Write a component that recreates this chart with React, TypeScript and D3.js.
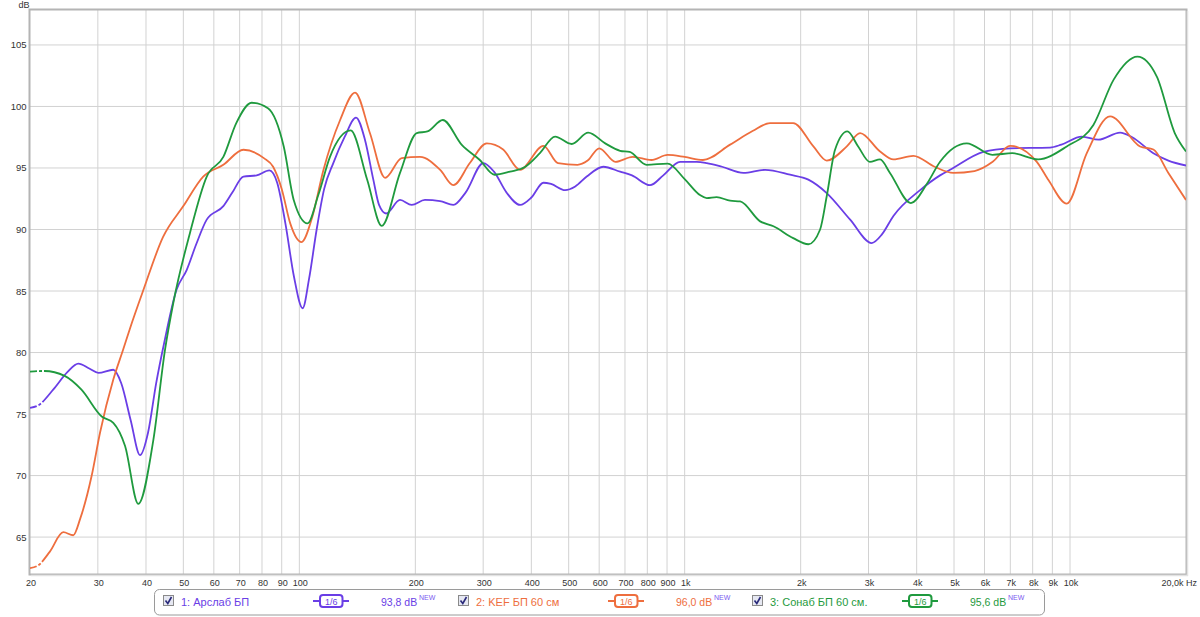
import React from "react";
import * as d3 from "d3";

const W = 1200;
const H = 617;

const arslabFreq = [20, 21, 23, 25, 26.7, 28.5, 30.1, 32.9, 34.5, 36.5, 38.6, 40.5, 42.5, 44.6, 48, 51, 54, 57.5, 63.5, 67, 71.6, 77.5, 83.6, 87.6, 92, 96.8, 102, 106, 110.9, 116, 122.5, 131, 140.3, 148, 155.6, 161, 168, 182.5, 195.7, 211.8, 231.8, 251, 270, 300.4, 320, 345, 374, 400, 430, 450, 489.5, 520, 557, 615, 680, 730, 813, 880, 973, 1075, 1141, 1250, 1420, 1617, 1877, 2094, 2337, 2688, 3058, 3250, 3481, 4083, 4600, 4883, 5957, 6989, 8873, 9500, 10726, 11855, 13490, 14500, 16460, 18000, 20000];
const arslabDb = [75.5, 75.7, 77.0, 78.4, 79.1, 78.7, 78.35, 78.6, 77.5, 74.5, 71.66, 73.5, 77.5, 80.8, 85.1, 86.7, 88.8, 90.8, 91.9, 93.0, 94.3, 94.4, 94.8, 93.8, 90.5, 86.2, 83.6, 86.0, 90.0, 93.3, 95.4, 97.5, 99.1, 97.3, 94.05, 92.0, 91.3, 92.4, 92.0, 92.4, 92.3, 92.0, 93.0, 95.4, 94.7, 93.0, 92.0, 92.6, 93.8, 93.7, 93.2, 93.5, 94.3, 95.1, 94.7, 94.4, 93.6, 94.4, 95.5, 95.5, 95.4, 95.1, 94.6, 94.85, 94.45, 94.05, 92.96, 90.8, 88.9, 89.6, 91.1, 93.2, 94.4, 94.85, 96.3, 96.6, 96.66, 96.9, 97.55, 97.3, 97.88, 97.5, 96.2, 95.6, 95.2];

const kefFreq = [20, 21, 22.5, 24.4, 25.9, 27, 28.9, 30.4, 32.9, 34.9, 36.3, 39.4, 44.3, 50, 56.3, 63.5, 71.6, 80.9, 85.5, 90, 94.7, 101.3, 108, 115.4, 127.6, 139.5, 152.6, 166.9, 184.4, 205.6, 232, 251, 277, 306.5, 338, 374, 430, 469, 527, 560, 600, 661, 733, 820, 903, 1000, 1115, 1312, 1500, 1666, 1913, 2158, 2337, 2635, 2853, 3215, 3481, 3922, 4453, 4980, 5650, 6300, 6989, 8201, 8800, 9807, 11055, 12706, 15200, 16460, 18000, 20000];
const kefDb = [62.47, 62.7, 63.8, 65.4, 65.15, 66.5, 69.96, 73.5, 77.8, 80.24, 81.9, 85.1, 89.4, 91.9, 94.3, 95.26, 96.48, 95.8, 95.1, 93.3, 90.5, 88.98, 91.0, 94.8, 98.9, 101.13, 97.8, 94.2, 95.8, 95.9, 94.85, 93.6, 95.4, 97.0, 96.5, 94.85, 96.8, 95.4, 95.26, 95.6, 96.6, 95.5, 95.9, 95.65, 96.06, 95.9, 95.65, 96.9, 98.0, 98.65, 98.65, 96.75, 95.6, 96.75, 97.84, 96.34, 95.7, 95.99, 95.1, 94.6, 94.75, 95.5, 96.8, 95.5, 94.0, 92.1, 96.2, 99.2, 96.75, 96.5, 94.6, 92.4];

const sonabFreq = [20, 21.8, 24.6, 27.2, 30.7, 32.9, 35.3, 38.2, 41.8, 44.8, 47.1, 52, 57.5, 63.5, 68.6, 75.2, 82.9, 91.1, 96.7, 105, 112, 120.1, 135.9, 150, 163.6, 182.5, 201.7, 215, 235.6, 264, 294, 321, 352, 386, 421, 461, 509, 562, 622, 680, 720, 797, 903, 1000, 1096, 1141, 1210, 1312, 1393, 1570, 1700, 1913, 2094, 2245, 2337, 2456, 2643, 2820, 3022, 3215, 3410, 3864, 4262, 4600, 5396, 6289, 7085, 8268, 9807, 11500, 12993, 14960, 16800, 18700, 20000];
const sonabDb = [78.45, 78.5, 78.1, 76.98, 74.8, 74.29, 72.4, 67.7, 72.9, 80.2, 84.05, 89.7, 94.3, 95.9, 98.65, 100.3, 99.86, 96.75, 92.4, 90.5, 92.8, 95.9, 98.05, 94.05, 90.3, 94.6, 97.84, 97.97, 98.9, 96.88, 95.65, 94.45, 94.7, 95.1, 96.2, 97.55, 96.95, 97.88, 97.0, 96.4, 96.3, 95.26, 95.35, 94.1, 92.8, 92.55, 92.63, 92.34, 92.28, 90.66, 90.26, 89.3, 88.8, 89.98, 92.7, 96.48, 97.97, 96.75, 95.5, 95.7, 94.6, 92.15, 93.76, 95.5, 97.0, 96.07, 96.2, 95.7, 96.75, 98.5, 102.2, 104.05, 102.43, 97.84, 96.34];

const seriesNames = ["1: Арслаб БП", "2: KEF БП 60 см", "3: Сонаб БП 60 см."];
const seriesLevels = ["93,8 dB", "96,0 dB", "95,6 dB"];
const seriesColors = ["#6a3ee6", "#ee6e3e", "#1f9a3e"];

const yTicks = [65, 70, 75, 80, 85, 90, 95, 100, 105];
const xGrid = [30, 40, 50, 60, 70, 80, 90, 100, 200, 300, 400, 500, 600, 700, 800, 900, 1000, 2000, 3000, 4000, 5000, 6000, 7000, 8000, 9000, 10000];
const xTickValues = [20, 30, 40, 50, 60, 70, 80, 90, 100, 200, 300, 400, 500, 600, 700, 800, 900, 1000, 2000, 3000, 4000, 5000, 6000, 7000, 8000, 9000, 10000];
const xTickLabels = ["20", "30", "40", "50", "60", "70", "80", "90", "100", "200", "300", "400", "500", "600", "700", "800", "900", "1k", "2k", "3k", "4k", "5k", "6k", "7k", "8k", "9k", "10k"];

const L = 30, R = 1186, T = 10, B = 574;

export default function App() {
  const x = d3.scaleLog().domain([20, 20000]).range([L, R]);
  const y = d3.scaleLinear().domain([62, 107.84]).range([B, T]);
  const line = d3
    .line<[number, number]>()
    .x((d) => x(d[0]))
    .y((d) => y(d[1]))
    .curve(d3.curveMonotoneX);

  const series = [
    arslabFreq.map((f, i) => [f, arslabDb[i]] as [number, number]),
    kefFreq.map((f, i) => [f, kefDb[i]] as [number, number]),
    sonabFreq.map((f, i) => [f, sonabDb[i]] as [number, number]),
  ];

  const font = "'Liberation Sans', Arial, sans-serif";
  const legendX = [163, 458, 752];

  return (
    <div style={{ position: "absolute", left: 0, top: 0 }}>
      <svg width={W} height={H} style={{ display: "block", background: "#fff" }}>
        <defs>
          <clipPath id="plot">
            <rect x={L} y={T} width={R - L} height={B - T} />
          </clipPath>
        </defs>
        {yTicks.map((t) => (
          <line key={"gy" + t} x1={L} x2={R} y1={y(t)} y2={y(t)} stroke="#d2d2d2" strokeWidth={1} />
        ))}
        {xGrid.map((t) => (
          <line key={"gx" + t} x1={x(t)} x2={x(t)} y1={T} y2={B} stroke="#d2d2d2" strokeWidth={1} />
        ))}
        <rect x={L - 0.5} y={T - 0.5} width={R - L + 1} height={B - T + 1} fill="none" stroke="#b4b4b4" strokeWidth={2} />
        <line x1={R + 1.5} x2={R + 1.5} y1={T + 1} y2={B + 2} stroke="#e2e2e2" strokeWidth={1.5} />
        <line x1={L + 1} x2={R + 2} y1={B + 1.5} y2={B + 1.5} stroke="#e2e2e2" strokeWidth={1.5} />
        <g clipPath="url(#plot)">
          {series.map((s, i) => (
            <path
              key={"s" + i}
              d={line(s) || ""}
              fill="none"
              stroke={seriesColors[i]}
              strokeWidth={1.8}
              strokeDasharray="7 2 3 2 5000"
            />
          ))}
        </g>
        <text x={24} y={8} fontFamily={font} fontSize={9} fill="#333" textAnchor="middle">dB</text>
        {yTicks.map((t) => (
          <text key={"yl" + t} x={26.5} y={y(t) + 3.5} fontFamily={font} fontSize={9.5} fill="#333" textAnchor="end">
            {t}
          </text>
        ))}
        {xTickValues.map((t, i) => (
          <text key={"xl" + t} x={x(t) + 1} y={586} fontFamily={font} fontSize={9} fill="#333" textAnchor="middle">
            {xTickLabels[i]}
          </text>
        ))}
        <text x={1197} y={586} fontFamily={font} fontSize={9} fill="#333" textAnchor="end">20,0k Hz</text>
        <rect x={154.5} y={589.5} width={890} height={25.5} rx={5} fill="#fff" stroke="#9a9a9a" strokeWidth={1} />
        {seriesNames.map((name, i) => {
          const bx = legendX[i];
          const c = seriesColors[i];
          const ix = bx + 150;
          return (
            <g key={"lg" + i}>
              <rect x={bx + 0.5} y={595.5} width={10} height={10} fill="#e6e8f2" stroke="#8a8a8a" strokeWidth={1} />
              <path d={`M${bx + 2.5},${600.5} L${bx + 4.8},${603.5} L${bx + 8.5},${597}`} fill="none" stroke="#2a2a7a" strokeWidth={1.6} />
              <text x={bx + 18} y={606} fontFamily={font} fontSize={11} fill={c}>{name}</text>
              <line x1={ix} x2={ix + 36} y1={601} y2={601} stroke={c} strokeWidth={2} />
              <rect x={ix + 7} y={595} width={22.5} height={12} rx={3} fill="#fff" stroke={c} strokeWidth={2} />
              <text x={ix + 18.3} y={604.5} fontFamily={font} fontSize={9} fill={c} textAnchor="middle">1/6</text>
              <text x={bx + 218} y={606} fontFamily={font} fontSize={10.5} fill={c}>{seriesLevels[i]}</text>
              <text x={bx + 256} y={600} fontFamily={font} fontSize={7} fill="#7a5af0">NEW</text>
            </g>
          );
        })}
      </svg>
    </div>
  );
}
